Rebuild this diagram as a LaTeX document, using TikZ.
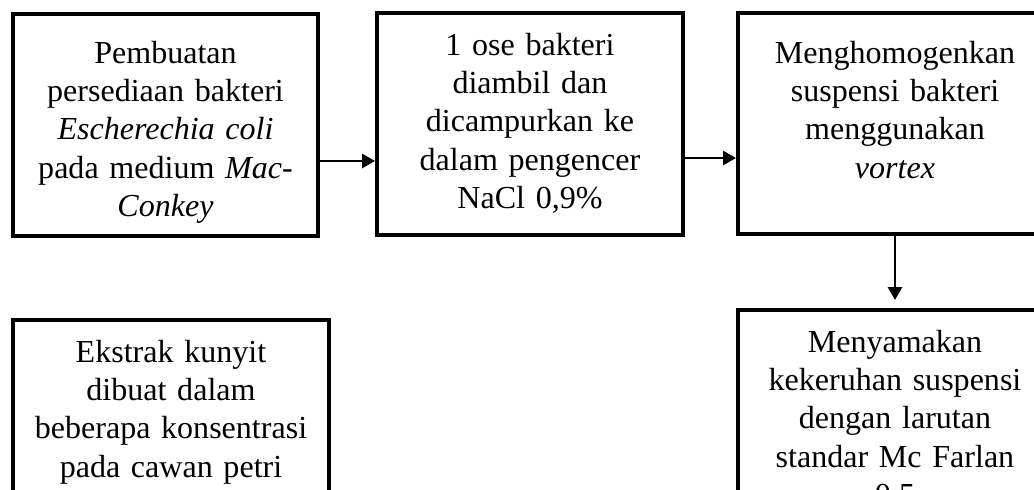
\documentclass[tikz,border=0pt]{standalone}
\usepackage{fontspec}
\setmainfont{Liberation Serif}
\usetikzlibrary{arrows.meta}
\begin{document}
\begin{tikzpicture}[
	box/.style={rectangle, draw, line width=3pt, inner sep=0pt, align=center, font=\fontsize{22.8pt}{27.3pt}\selectfont},
	arr/.style={line width=1.4pt, -{Triangle[length=9pt, width=10pt]}}
	]
		\useasboundingbox (0,0) rectangle (25.85,-12.225);
		\clip (0,0) rectangle (25.85,-12.225);
		
		% Nodes
		\node[box, minimum width=7.625cm, text width=7.2cm, text height=1.225cm, text depth=4.325cm] (s1) at (4.1375,-3.125) {Pembuatan\\ persediaan bakteri\\ \textit{Escherechia coli}\\ pada medium \textit{Mac-}\\ \textit{Conkey}};
		\node[box, minimum width=7.65cm, text width=7.2cm, text height=1.05cm, text depth=4.5cm] (s2) at (13.25,-3.1) {1 ose bakteri\\ diambil dan\\ dicampurkan ke\\ dalam pengencer\\ NaCl 0,9\%};
		\node[box, minimum width=7.85cm, text width=7.4cm, text height=1.25cm, text depth=4.275cm] (s3) at (22.375,-3.0875) {Menghomogenkan\\ suspensi bakteri\\ menggunakan\\ \textit{vortex}};
		\node[box, minimum width=7.9cm, text width=7.4cm, text height=1.05cm, text depth=4.95cm] (s4) at (4.275,-11.0) {Ekstrak kunyit\\ dibuat dalam\\ beberapa konsentrasi\\ pada cawan petri};
		\node[box, minimum width=7.85cm, text width=7.4cm, text height=1.05cm, text depth=5.2cm] (s5) at (22.375,-10.875) {Menyamakan\\ kekeruhan suspensi\\ dengan larutan\\ standar Mc Farlan\\ 0,5};
		
		% Edges
		\draw[arr] ([yshift=-0.9cm]s1.east) -- ([yshift=-0.925cm]s2.west);
		\draw[arr] ([yshift=-0.85cm]s2.east) -- ([yshift=-0.8625cm]s3.west);
		\draw[arr, shorten >=0.2cm] (s3.south) -- (s5.north);
	\end{tikzpicture}
\end{document}
